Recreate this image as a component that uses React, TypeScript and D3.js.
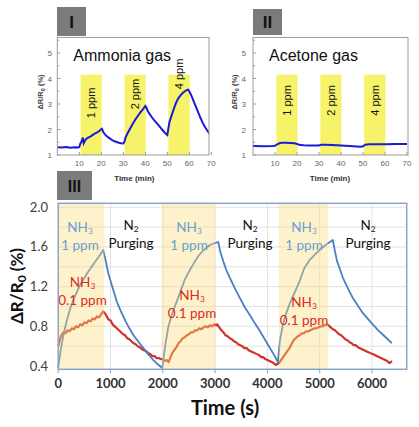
import React from 'react';
import * as d3 from 'd3';

// ---------- Panel I / II data (time in min, ΔR/R0 in %) ----------
const ammoniaT = [0, 2, 4, 6, 8, 9.5, 10, 10.5, 11, 11.6, 12, 12.5, 13, 14, 15, 16, 17, 18, 19, 19.8, 20.3, 21, 22, 23, 24, 25, 26, 27, 28, 29, 30, 30.5, 31, 32, 33, 34, 35, 36, 37, 38, 39, 40, 40.5, 41, 42, 43, 44, 45, 46, 47, 48, 49, 50, 50.5, 51, 52, 53, 54, 55, 56, 57, 58, 59, 59.5, 60, 61, 62, 63, 64, 65, 66, 67, 68, 69, 70];
const ammoniaV = [1.30, 1.29, 1.31, 1.28, 1.30, 1.29, 1.31, 1.45, 1.52, 1.68, 1.46, 1.55, 1.62, 1.68, 1.72, 1.78, 1.84, 1.88, 1.94, 2.0, 2.03, 1.88, 1.78, 1.70, 1.64, 1.58, 1.54, 1.51, 1.48, 1.46, 1.45, 1.52, 1.68, 1.86, 2.02, 2.18, 2.32, 2.46, 2.58, 2.70, 2.80, 2.92, 2.86, 2.74, 2.60, 2.48, 2.37, 2.27, 2.17, 2.06, 1.96, 1.86, 1.78, 2.05, 2.30, 2.56, 2.82, 3.05, 3.22, 3.34, 3.43, 3.50, 3.55, 3.56, 3.50, 3.32, 3.10, 2.90, 2.68, 2.47, 2.28, 2.12, 1.98, 1.86, 1.77];
const acetoneT = [0, 5, 9, 10, 11, 12, 13, 15, 17, 19, 20, 21, 23, 25, 28, 30, 31, 33, 36, 40, 44, 47, 49, 50, 51, 53, 56, 60, 65, 70];
const acetoneV = [1.35, 1.34, 1.35, 1.36, 1.42, 1.46, 1.48, 1.48, 1.47, 1.46, 1.43, 1.40, 1.38, 1.37, 1.37, 1.37, 1.40, 1.40, 1.39, 1.37, 1.35, 1.33, 1.32, 1.34, 1.40, 1.42, 1.42, 1.42, 1.43, 1.43];
const bandStartMin = [10.6, 30.6, 50.5];
const bandEndMin = [20.2, 40.2, 60.2];
const ppmLabels = ['1 ppm', '2 ppm', '4 ppm'];
const ammoniaLabelV = [3.04, 3.39, 4.18];
const acetoneLabelV = [3.14, 3.14, 3.14];
const smallXTicks = [10, 20, 30, 40, 50, 60, 70];
const smallYTicks = [1, 2, 3, 4, 5];

// ---------- Panel III data (time in s, ΔR/R0 in %) ----------
const nh3HighT = [0, 30, 60, 100, 160, 230, 300, 360, 420, 480, 560, 640, 720, 800, 860,
  900, 960, 1040, 1120, 1200, 1280, 1360, 1440, 1540, 1630, 1720, 1820, 1920, 1990,
  2010, 2050, 2100, 2160, 2230, 2330, 2420, 2520, 2620, 2710, 2810, 2900, 3000, 3060,
  3100, 3160, 3220, 3290, 3380, 3480, 3570, 3670, 3760, 3860, 3960, 4050, 4130, 4200,
  4215, 4240, 4290, 4340, 4420, 4520, 4620, 4700, 4810, 4940, 5040, 5140, 5250,
  5290, 5330, 5390, 5450, 5550, 5640, 5740, 5830, 5930, 6030, 6120, 6220, 6300, 6380];
const nh3HighV = [0.38, 0.50, 0.60, 0.71, 0.85, 0.98, 1.08, 1.15, 1.22, 1.27, 1.34, 1.40, 1.46, 1.52, 1.57,
  1.48, 1.33, 1.19, 1.05, 0.95, 0.86, 0.78, 0.71, 0.64, 0.58, 0.52, 0.46, 0.41, 0.38,
  0.46, 0.62, 0.78, 0.90, 1.00, 1.14, 1.27, 1.37, 1.46, 1.53, 1.58, 1.62, 1.64, 1.65,
  1.55, 1.45, 1.36, 1.28, 1.18, 1.08, 0.99, 0.91, 0.83, 0.75, 0.66, 0.58, 0.51, 0.44,
  0.52, 0.66, 0.80, 0.90, 1.02, 1.14, 1.26, 1.38, 1.47, 1.54, 1.59, 1.63, 1.67,
  1.56, 1.46, 1.37, 1.28, 1.17, 1.08, 1.00, 0.93, 0.87, 0.81, 0.76, 0.71, 0.67, 0.63];
const nh3LowT = [0, 30, 60, 100, 140, 180, 220, 260, 300, 340, 380, 420, 460, 500, 540, 580, 620, 660, 700, 740, 780, 820, 860, 880,
  920, 960, 1000, 1040, 1080, 1120, 1160, 1200, 1240, 1280, 1320, 1360, 1400, 1440, 1480, 1520, 1560, 1600, 1640, 1680, 1720, 1760, 1800, 1840, 1880, 1920, 1960, 2000, 2040, 2080, 2110,
  2140, 2180, 2220, 2260, 2300, 2340, 2380, 2420, 2460, 2500, 2540, 2580, 2620, 2660, 2700, 2740, 2780, 2820, 2860, 2900, 2940, 2980, 3020, 3040,
  3080, 3120, 3160, 3200, 3240, 3280, 3320, 3360, 3400, 3440, 3480, 3520, 3560, 3600, 3640, 3680, 3720, 3760, 3800, 3840, 3880, 3920, 3960, 4000, 4040, 4080, 4120, 4160, 4190,
  4220, 4260, 4300, 4340, 4380, 4420, 4460, 4500, 4540, 4580, 4620, 4660, 4700, 4740, 4780, 4820, 4860, 4900, 4940, 4980, 5020, 5060, 5100, 5140, 5170,
  5210, 5250, 5290, 5330, 5370, 5410, 5450, 5490, 5530, 5570, 5610, 5650, 5690, 5730, 5770, 5810, 5850, 5890, 5930, 5970, 6010, 6050, 6090, 6130, 6170, 6210, 6250, 6290, 6330, 6360, 6380];
const nh3LowV = [0.60, 0.66, 0.71, 0.74, 0.73, 0.76, 0.75, 0.78, 0.77, 0.80, 0.79, 0.82, 0.81, 0.84, 0.83, 0.86, 0.85, 0.88, 0.87, 0.90, 0.89, 0.92, 0.95, 0.94,
  0.91, 0.87, 0.86, 0.82, 0.80, 0.78, 0.76, 0.74, 0.72, 0.71, 0.68, 0.67, 0.65, 0.63, 0.62, 0.60, 0.59, 0.57, 0.56, 0.55, 0.53, 0.52, 0.50, 0.50, 0.48, 0.48, 0.47, 0.47, 0.45, 0.46, 0.44,
  0.48, 0.53, 0.56, 0.59, 0.63, 0.65, 0.68, 0.69, 0.71, 0.72, 0.74, 0.74, 0.76, 0.76, 0.78, 0.77, 0.79, 0.80, 0.79, 0.81, 0.80, 0.82, 0.81, 0.82,
  0.79, 0.76, 0.74, 0.71, 0.70, 0.68, 0.67, 0.65, 0.64, 0.62, 0.61, 0.60, 0.58, 0.58, 0.56, 0.55, 0.54, 0.53, 0.52, 0.51, 0.49, 0.49, 0.47, 0.46, 0.45, 0.44, 0.43, 0.41, 0.42,
  0.43, 0.46, 0.49, 0.52, 0.55, 0.58, 0.62, 0.66, 0.68, 0.70, 0.71, 0.73, 0.73, 0.75, 0.75, 0.76, 0.77, 0.78, 0.78, 0.79, 0.80, 0.80, 0.81, 0.82, 0.81,
  0.79, 0.77, 0.76, 0.74, 0.72, 0.71, 0.69, 0.67, 0.66, 0.64, 0.63, 0.61, 0.61, 0.59, 0.58, 0.57, 0.56, 0.55, 0.54, 0.53, 0.52, 0.51, 0.50, 0.49, 0.48, 0.47, 0.46, 0.45, 0.43, 0.44, 0.45];
const exposureStart = [0, 1980, 4220];
const exposureEnd = [880, 3000, 5165];
const bigXTicks = [0, 1000, 2000, 3000, 4000, 5000, 6000];
const bigYTicks = [0.4, 0.8, 1.2, 1.6, 2.0];
const gridYValues = [0.6, 0.8, 1.0, 1.2, 1.4, 1.6, 1.8, 2.0];

const SMALL_FONT = '"Liberation Sans", Arial, sans-serif';
const BIG_FONT = 'Lato, "Open Sans", sans-serif';

type SmallProps = {
  x0: number; x1: number; tag: string; tagX: number; tagY: number; tagW: number; tagH: number;
  title: string; t: number[]; v: number[]; labelV: number[]; yLabX: number; tickLabX: number;
};

function SmallPanel(p: SmallProps) {
  const top = 37.5, bottom = 155;
  const x = d3.scaleLinear().domain([0, 70]).range([p.x0, p.x0 + 154]);
  const y = d3.scaleLinear().domain([1, 5]).range([155, 53]);
  const pts = p.t.map((t, i) => [t, p.v[i]] as [number, number]);
  const line = d3.line<[number, number]>().x(d => x(d[0])).y(d => y(d[1]));
  const clipId = 'clip-' + p.tag.length;
  const minorY = d3.range(1.5, 5.6, 1);
  return (
    <g>
      <rect x={p.tagX} y={p.tagY} width={p.tagW} height={p.tagH} fill="#7b7b7b" />
      <text x={p.tagX + p.tagW / 2} y={p.tagY + p.tagH / 2 + 6} textAnchor="middle" fontFamily={SMALL_FONT} fontWeight={700} fontSize={17} fill="#111">{p.tag}</text>
      <defs>
        <clipPath id={clipId}><rect x={p.x0} y={top} width={p.x1 - p.x0} height={bottom - top} /></clipPath>
      </defs>
      {bandStartMin.map((s, i) => (
        <rect key={i} x={x(s)} y={y(4.15)} width={x(bandEndMin[i]) - x(s)} height={bottom - y(4.15)} fill="#f6f36a" />
      ))}
      {ppmLabels.map((l, i) => {
        const cx = (x(bandStartMin[i]) + x(bandEndMin[i])) / 2 + 4;
        const cy = y(p.labelV[i]);
        return <text key={i} transform={`translate(${cx},${cy}) rotate(-90)`} textAnchor="middle" fontFamily={SMALL_FONT} fontSize={11} fill="#111">{l}</text>;
      })}
      <path d={line(pts) || ''} fill="none" stroke="#1a1ad8" strokeWidth={2} clipPath={`url(#${clipId})`} />
      <rect x={p.x0} y={top} width={p.x1 - p.x0} height={bottom - top} fill="none" stroke="#9c9c9c" strokeWidth={1} />
      {smallYTicks.map(t => (
        <g key={t}>
          <line x1={p.x0} x2={p.x0 + 3} y1={y(t)} y2={y(t)} stroke="#9c9c9c" />
          <text x={p.tickLabX} y={y(t) + 3} textAnchor="end" fontFamily={SMALL_FONT} fontSize={8} fill="#666">{t}</text>
        </g>
      ))}
      {minorY.map(t => <line key={t} x1={p.x0} x2={p.x0 + 2} y1={y(t)} y2={y(t)} stroke="#9c9c9c" />)}
      {smallXTicks.map(t => (
        <g key={t}>
          <line x1={x(t)} x2={x(t)} y1={bottom} y2={bottom - 3} stroke="#9c9c9c" />
          <text x={x(t)} y={166} textAnchor="middle" fontFamily={SMALL_FONT} fontSize={8} fill="#666">{t}</text>
        </g>
      ))}
      <text x={p.x0 + 16} y={61} fontFamily={SMALL_FONT} fontSize={16} fill="#111">{p.title}</text>
      <text transform={`translate(${p.yLabX},92) rotate(-90)`} textAnchor="middle" fontFamily={SMALL_FONT} fontSize={7.5} fontWeight={700} fill="#444">
        ΔR/R<tspan fontSize={5.5} dy={2}>0</tspan><tspan dy={-2}> (%)</tspan>
      </text>
      <text x={(x(0) + x(70)) / 2} y={181} textAnchor="middle" fontFamily={SMALL_FONT} fontSize={8} fontWeight={700} fill="#333">Time (min)</text>
    </g>
  );
}

function Sub({ base, sub, x, y, fill, size }: { base: string; sub: string; x: number; y: number; fill: string; size: number }) {
  return (
    <text x={x} y={y} textAnchor="middle" fontFamily={BIG_FONT} fontSize={size} fill={fill}>
      {base}<tspan fontSize={size * 0.62} dy={2}>{sub}</tspan>
    </text>
  );
}

function BigPanel() {
  const left = 58.2, right = 406.7, top = 203.3, bottom = 369.3;
  const x = d3.scaleLinear().domain([0, 6663]).range([left, right]);
  const y = d3.scaleLinear().domain([0.367, 2.04]).range([bottom, top]);
  const line = d3.line<[number, number]>().x(d => x(d[0])).y(d => y(d[1]));
  const hi = nh3HighT.map((t, i) => [t, nh3HighV[i]] as [number, number]);
  const lo = nh3LowT.map((t, i) => [t, nh3LowV[i]] as [number, number]);
  const blue = '#4a7fc4';
  const red = '#d0332a';
  const blueText = '#6a9fd0';
  const redText = '#dc2a20';
  const blueLabelX = [80, 189, 304];
  const redLabelX = [82.5, 192, 304];
  const redLabelY = [287, 300, 307];
  const purgeX = [131, 250, 368];
  const fs = 13.5;
  return (
    <g>
      <rect x={57} y={171} width={35} height={29} fill="#7b7b7b" />
      <text x={74.5} y={191.5} textAnchor="middle" fontFamily={SMALL_FONT} fontWeight={700} fontSize={16} fill="#111">III</text>
      {gridYValues.map(v => <line key={v} x1={left} x2={right} y1={y(v)} y2={y(v)} stroke="#e2e2e2" strokeWidth={1} />)}
      {bigXTicks.slice(1).map(t => <line key={t} x1={x(t)} x2={x(t)} y1={top} y2={bottom} stroke="#e2e2e2" strokeWidth={1} />)}
      <path d={line(lo) || ''} fill="none" stroke={red} strokeWidth={2.2} strokeLinejoin="round" />
      <path d={line(hi) || ''} fill="none" stroke={blue} strokeWidth={1.8} strokeLinejoin="round" />
      {exposureStart.map((s, i) => (
        <rect key={i} x={x(s)} y={top} width={x(exposureEnd[i]) - x(s)} height={bottom - top} fill="#f9de7c" opacity={0.4} />
      ))}
      {blueLabelX.map((cx, i) => (
        <g key={'b' + i}>
          <Sub base="NH" sub="3" x={cx} y={231.5} fill={blueText} size={fs} />
          <text x={cx} y={249.5} textAnchor="middle" fontFamily={BIG_FONT} fontSize={fs} fill={blueText}>1 ppm</text>
        </g>
      ))}
      {redLabelX.map((cx, i) => (
        <g key={'r' + i}>
          <Sub base="NH" sub="3" x={cx} y={redLabelY[i]} fill={redText} size={fs} />
          <text x={cx} y={redLabelY[i] + 18} textAnchor="middle" fontFamily={BIG_FONT} fontSize={fs} fill={redText}>0.1 ppm</text>
        </g>
      ))}
      {purgeX.map((cx, i) => (
        <g key={'p' + i}>
          <Sub base="N" sub="2" x={cx} y={229.5} fill="#111" size={fs} />
          <text x={cx} y={247.5} textAnchor="middle" fontFamily={BIG_FONT} fontSize={fs} fill="#111">Purging</text>
        </g>
      ))}
      <rect x={left} y={top} width={right - left} height={bottom - top} fill="none" stroke="#8aa5c9" strokeWidth={1.5} />
      {bigYTicks.map(v => (
        <text key={v} x={48} y={y(v) + 4.5} textAnchor="end" fontFamily={BIG_FONT} fontSize={13} fill="#404040">{v.toFixed(1)}</text>
      ))}
      {bigXTicks.map(t => (
        <g key={t}>
          <line x1={x(t)} x2={x(t)} y1={bottom} y2={bottom + 4} stroke="#8aa5c9" />
          <text x={x(t)} y={388} textAnchor="middle" fontFamily={BIG_FONT} fontSize={13} fontWeight={700} fill="#333">{t}</text>
        </g>
      ))}
      <text x={225} y={415} textAnchor="middle" fontFamily={BIG_FONT} fontSize={20} fontWeight={700} fill="#111">Time (s)</text>
      <text transform="translate(23,286) rotate(-90)" textAnchor="middle" fontFamily={BIG_FONT} fontSize={17} fontWeight={700} fill="#111">
        ΔR/R<tspan fontSize={12} dy={3}>0</tspan><tspan dy={-3}> (%)</tspan>
      </text>
    </g>
  );
}

export default function App() {
  return (
    <svg width={419} height={427} style={{ position: 'absolute', left: 0, top: 0, background: '#fff' }}>
      <rect width={419} height={427} fill="#fff" />
      <SmallPanel x0={57.3} x1={209} tag="I" tagX={57} tagY={7} tagW={29} tagH={29} title="Ammonia gas" t={ammoniaT} v={ammoniaV} labelV={ammoniaLabelV} yLabX={43} tickLabX={52} />
      <SmallPanel x0={253} x1={408} tag="II" tagX={253} tagY={9} tagW={29} tagH={26} title="Acetone gas" t={acetoneT} v={acetoneV} labelV={acetoneLabelV} yLabX={237} tickLabX={246} />
      <BigPanel />
    </svg>
  );
}
